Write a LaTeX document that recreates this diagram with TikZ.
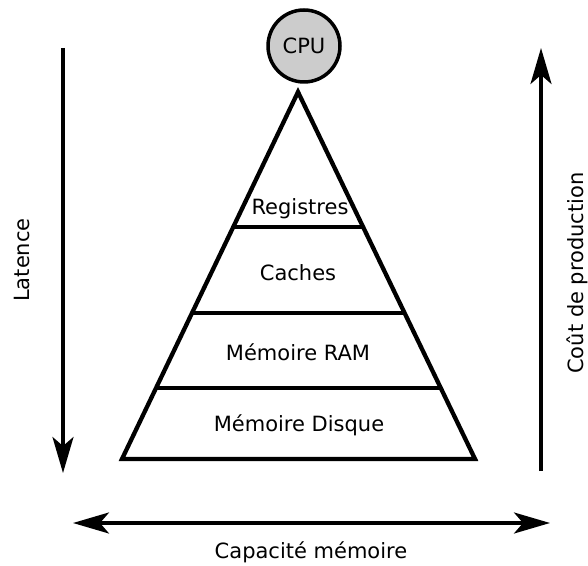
\documentclass[tikz,border=0pt]{standalone}
\usepackage{fontspec}
\setmainfont{DejaVu Sans}
\usetikzlibrary{arrows.meta, calc}

\begin{document}
\begin{tikzpicture}[x=1pt, y=1pt, every node/.style={font=\fontsize{21}{24}\selectfont},
    pointe/.tip={Stealth[length=36pt, width=21pt, inset=9pt]},
    axe/.style={line width=3.2pt, -pointe},
    niveau/.style={line width=4.3pt}]
  \useasboundingbox (0,0) rectangle (588,565);

  % pyramide
  \coordinate (sommet) at (298,473);
  \coordinate (bg) at (122,106);
  \coordinate (bd) at (475,106);
  \draw[niveau, line join=miter] (sommet) -- (bg) -- (bd) -- cycle;

  \foreach \t/\n in {0.368/1, 0.602/2, 0.807/3} {
    \coordinate (g\n) at ($(sommet)!\t!(bg)$);
    \coordinate (d\n) at ($(sommet)!\t!(bd)$);
    \draw[niveau] (g\n) -- (d\n);
  }

  \node (registres) at (300,356) {Registres};
  \node (caches) at (298,292) {Caches};
  \node (ram) at (298,213) {Mémoire RAM};
  \node (disque) at (299,140) {Mémoire Disque};

  \node[circle, draw, line width=3.5pt, fill=black!20, minimum size=72pt, inner sep=0pt] (cpu) at (304,519) {CPU};

  % axes
  \coordinate (lat1) at (63,517);
  \coordinate (lat2) at (63,92);
  \draw[axe] (lat1) -- (lat2);
  \node[rotate=90] (latence) at (22,305) {Latence};

  \coordinate (cout1) at (541,94);
  \coordinate (cout2) at (541,517);
  \draw[axe] (cout1) -- (cout2);
  \node[rotate=90] (cout) at (577,292) {Coût de production};

  \coordinate (cap1) at (73,42);
  \coordinate (cap2) at (550,42);
  \draw[axe, pointe-pointe] (cap1) -- (cap2);
  \node (capacite) at (311,13) {Capacité mémoire};
\end{tikzpicture}
\end{document}
